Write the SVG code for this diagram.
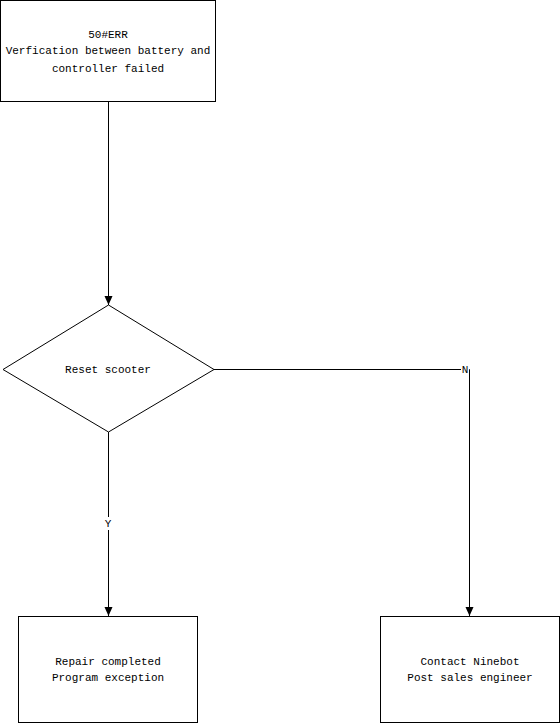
<svg xmlns="http://www.w3.org/2000/svg" width="560" height="724" viewBox="0 0 560 724">
<defs>
<marker id="arr" markerWidth="10" markerHeight="10" refX="9" refY="5" orient="auto" markerUnits="userSpaceOnUse">
<path d="M0,1 L9,5 L0,9 Z" fill="#000"/>
</marker>
<style>
.box{fill:#fff;stroke:#000;stroke-width:1}
.t{font-family:"Liberation Mono","DejaVu Sans Mono",monospace;font-size:11px;fill:#000;text-anchor:middle}
.c{fill:none;stroke:#000;stroke-width:1}
</style>
</defs>
<rect width="560" height="724" fill="#fff"/>
<g id="connectors">
<path class="c" d="M108.5,101.5 V305" marker-end="url(#arr)"/>
<path class="c" d="M214,369.5 H469.5 V616" marker-end="url(#arr)"/>
<path class="c" d="M108.5,432 V616" marker-end="url(#arr)"/>
<rect x="103" y="517" width="10" height="13" fill="#fff"/>
<text class="t" x="108" y="527">Y</text>
<rect x="461" y="363" width="8" height="12" fill="#fff"/>
<text class="t" x="465" y="373">N</text>
</g>
<g id="start">
<rect class="box" x="0.5" y="0.5" width="215" height="101"/>
<text class="t" x="108" y="38">50#ERR</text>
<text class="t" x="108" y="54">Verfication between battery and</text>
<text class="t" x="108" y="72">controller failed</text>
</g>
<g id="decision">
<polygon class="box" points="108.5,305 214,369.5 108.5,432 3,369.5"/>
<text class="t" x="108" y="373">Reset scooter</text>
</g>
<g id="repair">
<rect class="box" x="18.5" y="616.5" width="179" height="106"/>
<text class="t" x="108" y="665">Repair completed</text>
<text class="t" x="108" y="681">Program exception</text>
</g>
<g id="contact">
<rect class="box" x="380.5" y="616.5" width="179" height="106"/>
<text class="t" x="470" y="665">Contact Ninebot</text>
<text class="t" x="470" y="681">Post sales engineer</text>
</g>
</svg>
